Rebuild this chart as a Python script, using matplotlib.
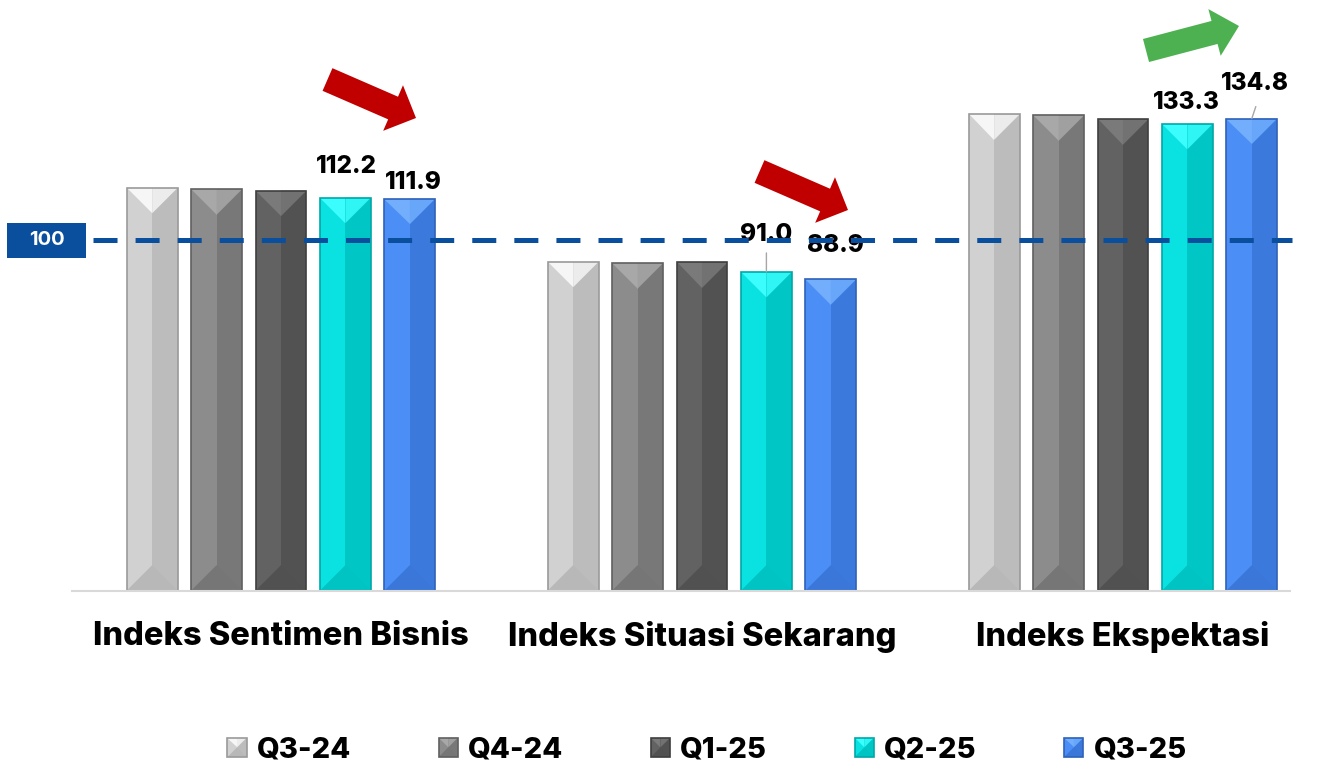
import matplotlib.pyplot as plt
import numpy as np
from matplotlib.patches import Polygon, Rectangle, FancyArrow
from matplotlib.legend_handler import HandlerBase

plt.rcParams['font.family'] = ['Inter', 'DejaVu Sans']
plt.rcParams['lines.scale_dashes'] = False

# data
categories = ['Indeks Sentimen Bisnis', 'Indeks Situasi Sekarang', 'Indeks Ekspektasi']
quarters = ['Q3-24', 'Q4-24', 'Q1-25', 'Q2-25', 'Q3-25']
q3_24 = [115.0, 93.9, 136.0]
q4_24 = [114.6, 93.5, 135.7]
q1_25 = [114.2, 93.7, 134.6]
q2_25 = [112.2, 91.0, 133.3]
q3_25 = [111.9, 88.9, 134.8]
series = [q3_24, q4_24, q1_25, q2_25, q3_25]
threshold = 100

# palettes: left, right, top-left, top-right, bottom, edge
palettes = [
    ['#d1d1d1', '#bcbcbc', '#f6f6f6', '#ececec', '#b8b8b8', '#9a9a9a'],
    ['#8c8c8c', '#787878', '#a8a8a8', '#a0a0a0', '#767676', '#606060'],
    ['#626262', '#525252', '#7a7a7a', '#727272', '#515151', '#3f3f3f'],
    ['#0ae2e2', '#00c6c6', '#3cfdfd', '#2ff5f5', '#00c3c3', '#00a8a8'],
    ['#4a8ef6', '#3b79dc', '#72aefc', '#68a6fa', '#3a77d9', '#2f62b8'],
]

# labels only for last two quarters: (series, category) -> offset px (dx, dy)
label_offsets = {
    (3, 0): (1, 20), (4, 0): (4, 5),
    (3, 1): (0, 26), (4, 1): (4.5, 22),
    (3, 2): (-1, 10), (4, 2): (3, 24),
}
leaders = {(3, 1): (0, 19), (4, 2): (4, 12)}


def bevel(x0, x1, y0, y1, d, pal, **kw):
    L, R, T, T2, B, E = pal
    xc = (x0 + x1) / 2
    d = min(d, (y1 - y0) / 2)
    parts = [
        ([(x0, y0), (xc, y0), (xc, y1), (x0, y1)], L),
        ([(xc, y0), (x1, y0), (x1, y1), (xc, y1)], R),
        ([(x0, y0), (x1, y0), (xc, y0 + d)], B),
        ([(x0, y1), (xc, y1), (xc, y1 - d)], T),
        ([(xc, y1), (x1, y1), (xc, y1 - d)], T2),
    ]
    arts = [Polygon(p, closed=True, facecolor=c, edgecolor='none', **kw) for p, c in parts]
    arts.append(Rectangle((x0, y0), x1 - x0, y1 - y0, facecolor='none',
                          edgecolor=E, lw=1.2, **kw))
    return arts


class BevelHandler(HandlerBase):
    def __init__(self, pal):
        super().__init__()
        self.pal = pal

    def create_artists(self, legend, orig_handle, xdescent, ydescent,
                       width, height, fontsize, trans):
        s = min(width, height)
        x0, y0 = -xdescent, -ydescent
        arts = bevel(x0, x0 + s, y0, y0 + s, s / 2, self.pal)
        for a in arts:
            a.set_transform(trans)
        return arts


W, H = 1317, 766
fig = plt.figure(figsize=(W / 100, H / 100), dpi=100)
ymax = 168
ax_w, ax_h = 1218, 588.3
ax = fig.add_axes([72 / W, (H - 590.6) / H, ax_w / W, ax_h / H])
xlim = (-0.4964, 2.3967)
ax.set_xlim(*xlim)
ax.set_ylim(0, ymax)

bar_w = 0.121
step = 0.153
px_x = ax_w / (xlim[1] - xlim[0])
px_y = ax_h / ymax
d = (bar_w / 2 * px_x) / px_y

x = np.arange(len(categories))
for i, vals in enumerate(series):
    for j, v in enumerate(vals):
        xc = x[j] + (i - 2) * step
        for a in bevel(xc - bar_w / 2, xc + bar_w / 2, 0, v, d, palettes[i], zorder=2):
            ax.add_patch(a)
        if (i, j) in label_offsets:
            dx, dy = label_offsets[(i, j)]
            ax.annotate(f'{v:.1f}', xy=(xc, v), xytext=(dx * 0.72, dy * 0.72),
                        textcoords='offset points', ha='center', va='bottom',
                        fontsize=17.5, fontweight='heavy', color='black', zorder=3)
        if (i, j) in leaders:
            lx, ly = leaders[(i, j)]
            ax.annotate('', xy=(xc, v), xytext=(lx * 0.72, ly * 0.72),
                        textcoords='offset points',
                        arrowprops=dict(arrowstyle='-', color='#a6a6a6', lw=1,
                                        shrinkA=0, shrinkB=0), zorder=3)

# reference line
ax.plot([0.017, 1.0016], [threshold, threshold], transform=ax.get_yaxis_transform(),
        color='#0a4f9e', lw=3.6, dashes=(17.3, 13), clip_on=False, zorder=5)
ax.add_patch(Rectangle((-0.0534, threshold - 5), 0.0649, 10,
                       transform=ax.get_yaxis_transform(), facecolor='#0a4f9e',
                       edgecolor='none', clip_on=False, zorder=5))
ax.text(-0.0209, threshold, str(threshold), transform=ax.get_yaxis_transform(),
        ha='center', va='center', color='white', fontsize=14.5, fontweight='bold',
        zorder=6)

ax.set_xticks(x, categories, fontsize=23.5, fontweight='heavy')
ax.tick_params(axis='x', length=0, pad=22)
ax.set_yticks([])
for s in ['left', 'right', 'top']:
    ax.spines[s].set_visible(False)
ax.spines['bottom'].set_color('#d9d9d9')
ax.spines['bottom'].set_linewidth(1.5)

# legend
handles = [Rectangle((0, 0), 1, 1) for _ in quarters]
hmap = {h: BevelHandler(p) for h, p in zip(handles, palettes)}
fig.legend(handles, quarters, handler_map=hmap, loc='center',
           bbox_to_anchor=(707 / W, 1 - 750 / H), ncol=5, frameon=False,
           prop=dict(weight='heavy', size=21), handlelength=0.66, handleheight=0.66,
           handletextpad=0.35, columnspacing=3.0)

# trend arrows (overlay in pixel coords)
ov = fig.add_axes([0, 0, 1, 1], zorder=10)
ov.set_xlim(0, W)
ov.set_ylim(H, 0)
ov.axis('off')
ov.patch.set_alpha(0)


def arrow(tail, tip, shaft, head_w, head_len, color):
    ov.add_patch(FancyArrow(tail[0], tail[1], tip[0] - tail[0], tip[1] - tail[1],
                            width=shaft, head_width=head_w, head_length=head_len,
                            length_includes_head=True, color=color, lw=0))


arrow((327.5, 79.5), (416, 118), 24.7, 49.7, 25, '#c00000')
arrow((759.5, 171.5), (848, 210), 24.7, 49.7, 25, '#c00000')
arrow((1146, 50.5), (1239, 26), 23.8, 48.3, 25.3, '#4eb151')

fig.savefig('out.png', dpi=100)
